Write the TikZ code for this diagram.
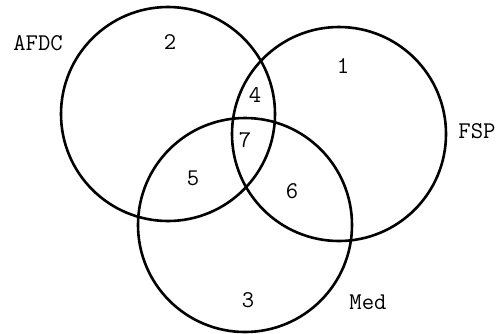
\documentclass[tikz,border=0pt]{standalone}
\usepackage{fontspec}
\tikzset{
  venn/.style = {line width=2.6pt},
  lbl/.style = {font=\ttfamily\fontsize{24}{24}\selectfont, inner sep=0pt}
}

\begin{document}
\begin{tikzpicture}[x=1pt,y=-1pt]
  \useasboundingbox (0,0) rectangle (500,333);
  \pgfmathsetmacro{\radius}{107}
  % 
  \coordinate (AFDC) at (168,114);
  \coordinate (FSP) at (339,134);
  \coordinate (Med) at (245,225);
  \draw[venn] (AFDC) circle ({\radius});
  \draw[venn] (FSP) circle ({\radius});
  \draw[venn] (Med) circle ({\radius});
  % 
  \node[lbl] (nAFDC) at (38,43) {AFDC};
  \node[lbl] (nFSP) at (477,131) {FSP};
  \node[lbl] (nMed) at (368,302) {Med};
  % regions
  \node[lbl] (r1) at (343,66) {1};
  \node[lbl] (r2) at (170,42) {2};
  \node[lbl] (r3) at (248,300) {3};
  \node[lbl] (r4) at (255,95) {4};
  \node[lbl] (r5) at (193,178) {5};
  \node[lbl] (r6) at (292,191) {6};
  \node[lbl] (r7) at (245,140) {7};
\end{tikzpicture}
\end{document}
